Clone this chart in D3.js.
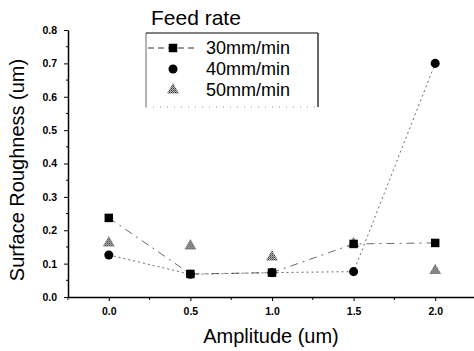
<!DOCTYPE html>
<html>
<head>
<meta charset="utf-8">
<script src="https://cdn.jsdelivr.net/npm/d3@7"></script>
<style>
  html, body { margin: 0; padding: 0; background: #fff; }
  svg { display: block; font-family: "Liberation Sans", Arial, sans-serif; }
</style>
</head>
<body>
<svg width="474" height="351"></svg>
<script>
// chart data
const amplitudes = [0.0, 0.5, 1.0, 1.5, 2.0]
const feed30 = [0.237, 0.069, 0.073, 0.159, 0.162]
const feed40 = [0.126, 0.068, 0.073, 0.076, 0.70]
const feed50 = [0.162, 0.153, 0.120, 0.160, 0.079]
const seriesNames = ["30mm/min", "40mm/min", "50mm/min"]
const xTicks = [0.0, 0.5, 1.0, 1.5, 2.0]
const yTicks = [0.0, 0.1, 0.2, 0.3, 0.4, 0.5, 0.6, 0.7, 0.8]

const svg = d3.select("svg")

// hatch pattern for the triangles
const defs = svg.append("defs")
const pat = defs.append("pattern")
  .attr("id", "hatch").attr("width", 2).attr("height", 2)
  .attr("patternUnits", "userSpaceOnUse")
pat.append("rect").attr("width", 2).attr("height", 2).attr("fill", "#bbb")
pat.append("rect").attr("width", 1).attr("height", 1).attr("fill", "#333")
pat.append("rect").attr("x", 1).attr("y", 1).attr("width", 1).attr("height", 1).attr("fill", "#666")

const x = d3.scaleLinear().domain([-0.25, 2.25]).range([68, 476])
const y = d3.scaleLinear().domain([0, 0.8]).range([297, 30])

// y axis
const yAxis = svg.append("g").attr("transform", "translate(68,0)")
yAxis.call(d3.axisLeft(y).tickValues(yTicks).tickFormat(d3.format(".1f")).tickSize(4).tickSizeOuter(0))
yAxis.selectAll("text").attr("font-size", 10.5).attr("font-weight", "bold").attr("dx", "-4")
yAxis.append("g").selectAll("line")
  .data(d3.range(0.05, 0.8, 0.1))
  .join("line")
  .attr("x1", -2).attr("x2", 0)
  .attr("y1", d => y(d)).attr("y2", d => y(d))
  .attr("stroke", "#000")

// x axis
const xAxis = svg.append("g").attr("transform", "translate(0,297)")
xAxis.call(d3.axisBottom(x).tickValues(xTicks).tickFormat(d3.format(".1f")).tickSize(4).tickSizeOuter(0))
xAxis.selectAll("text").attr("font-size", 10.5).attr("font-weight", "bold").attr("dy", "1em")
xAxis.append("g").selectAll("line")
  .data([-0.25, 0.25, 0.75, 1.25, 1.75, 2.25])
  .join("line")
  .attr("x1", d => x(d)).attr("x2", d => x(d))
  .attr("y1", 0).attr("y2", 3)
  .attr("stroke", "#000")
svg.selectAll(".domain").attr("stroke-width", 1.5)

// axis titles
svg.append("text")
  .attr("x", 271).attr("y", 343)
  .attr("text-anchor", "middle")
  .attr("font-size", 20)
  .text("Amplitude (um)")
svg.append("text")
  .attr("transform", "translate(24,170) rotate(-90)")
  .attr("text-anchor", "middle")
  .attr("font-size", 20)
  .text("Surface Roughness (um)")

// lines
const pts = vals => amplitudes.map((a, i) => [a, vals[i]])
const line = d3.line().x(d => x(d[0])).y(d => y(d[1]))
svg.append("path").datum(pts(feed30))
  .attr("d", line).attr("fill", "none")
  .attr("stroke", "#444").attr("stroke-width", 0.8)
  .attr("stroke-dasharray", "8,5,2,5")
svg.append("path").datum(pts(feed40))
  .attr("d", line).attr("fill", "none")
  .attr("stroke", "#444").attr("stroke-width", 0.8)
  .attr("stroke-dasharray", "2,3")

// markers
const sq = d3.symbol().type(d3.symbolSquare).size(72)
const ci = d3.symbol().type(d3.symbolCircle).size(64)
const tr = d3.symbol().type(d3.symbolTriangle).size(62)

svg.append("g").selectAll("path").data(pts(feed50)).join("path")
  .attr("d", tr).attr("transform", d => `translate(${x(d[0])},${y(d[1])})`)
  .attr("fill", "url(#hatch)")
svg.append("g").selectAll("path").data(pts(feed40)).join("path")
  .attr("d", ci).attr("transform", d => `translate(${x(d[0])},${y(d[1])})`)
  .attr("fill", "#000")
svg.append("g").selectAll("path").data(pts(feed30)).join("path")
  .attr("d", sq).attr("transform", d => `translate(${x(d[0])},${y(d[1])})`)
  .attr("fill", "#000")

// legend
svg.append("text")
  .attr("x", 151).attr("y", 25)
  .attr("font-size", 21)
  .text("Feed rate")
const lg = svg.append("g")
lg.append("line").attr("x1", 146).attr("x2", 318).attr("y1", 33).attr("y2", 33).attr("stroke", "#000")
lg.append("line").attr("x1", 146).attr("x2", 146).attr("y1", 33).attr("y2", 107).attr("stroke", "#000").attr("stroke-width", 0.6)
lg.append("line").attr("x1", 318).attr("x2", 318).attr("y1", 33).attr("y2", 107).attr("stroke", "#000").attr("stroke-width", 1.2)
lg.append("line").attr("x1", 146).attr("x2", 318).attr("y1", 107).attr("y2", 107)
  .attr("stroke", "#777").attr("stroke-width", 0.8).attr("stroke-dasharray", "1,6")
lg.append("line").attr("x1", 148).attr("x2", 198).attr("y1", 48).attr("y2", 48)
  .attr("stroke", "#333").attr("stroke-dasharray", "6,4")
const legSyms = [sq, ci, tr]
const legFill = ["#000", "#000", "url(#hatch)"]
seriesNames.forEach((name, i) => {
  const cy = 48 + i * 21
  lg.append("path").attr("d", legSyms[i]).attr("transform", `translate(173,${cy})`).attr("fill", legFill[i])
  lg.append("text").attr("x", 206).attr("y", cy + 6).attr("font-size", 18).text(name)
})
</script>
</body>
</html>
